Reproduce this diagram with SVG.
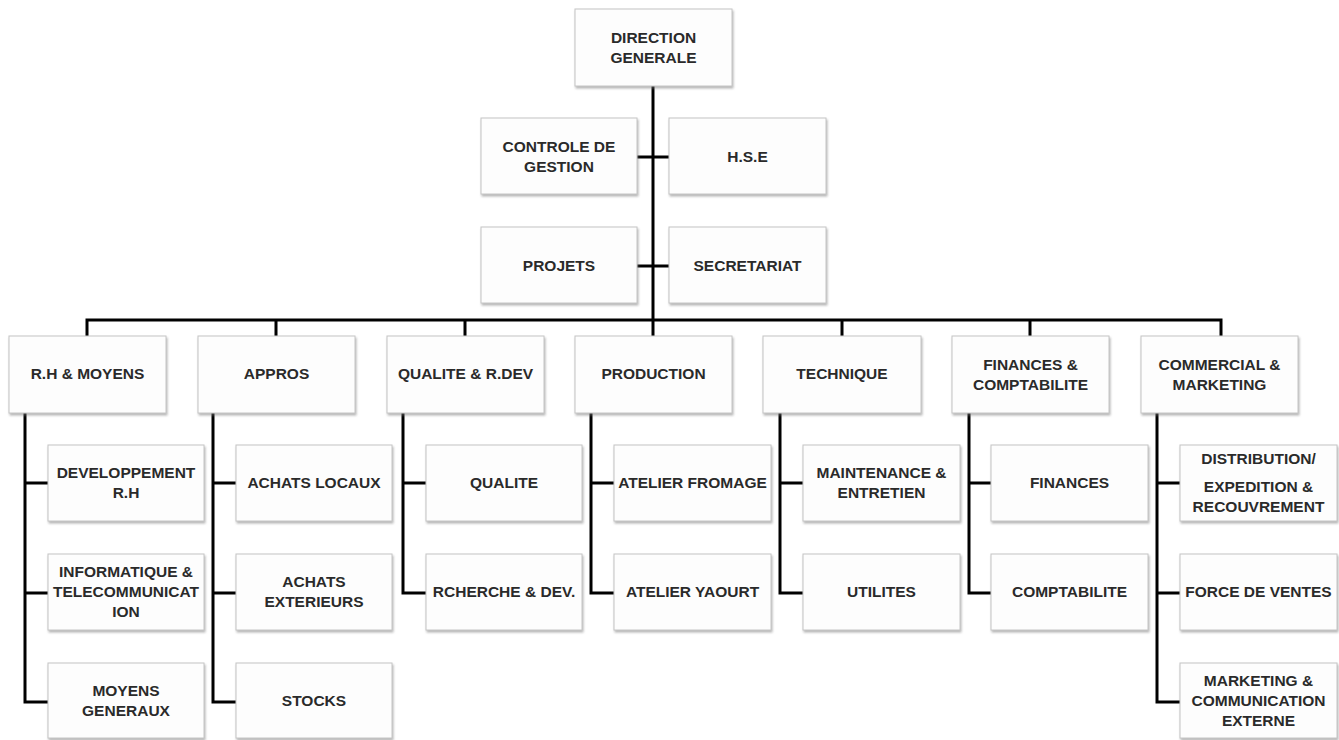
<svg xmlns="http://www.w3.org/2000/svg" width="1339" height="740" viewBox="0 0 1339 740">
<defs>
<filter id="sh" x="-10%" y="-10%" width="120%" height="130%">
<feDropShadow dx="1" dy="2" stdDeviation="1.2" flood-color="#7a7a7a" flood-opacity="0.55"/>
</filter>
<style>
.b{fill:#fdfdfd;stroke:#c4c4c4;stroke-width:1;filter:url(#sh)}
.t{font-family:"Liberation Sans",Arial,sans-serif;font-weight:bold;font-size:15.5px;fill:#2a2a2a;text-anchor:middle}
.c{fill:none;stroke:#000;stroke-width:3;stroke-linejoin:miter}
</style>
</defs>
<rect width="1339" height="740" fill="#fff"/>
<g id="connectors">
<path class="c" d="M653 86V336"/>
<path class="c" d="M637 157H669M637 266H669"/>
<path class="c" d="M87 336V320H1221V336"/>
<path class="c" d="M276 320V336M465 320V336M842 320V336M1030 320V336"/>
<path class="c" d="M25 413V702H48M25 483H48M25 593H48"/>
<path class="c" d="M213 413V702H236M213 483H236M213 593H236"/>
<path class="c" d="M403 413V593H426M403 483H426"/>
<path class="c" d="M591 413V593H614M591 483H614"/>
<path class="c" d="M780 413V593H803M780 483H803"/>
<path class="c" d="M969 413V593H991M969 483H991"/>
<path class="c" d="M1157 413V702H1180M1157 483H1180M1157 593H1180"/>
</g>
<g id="n-direction"><rect class="b" x="575" y="9" width="157" height="77"/><text class="t" x="653.5" y="43">DIRECTION</text><text class="t" x="653.5" y="63">GENERALE</text></g>
<g id="n-controle"><rect class="b" x="481" y="118" width="156" height="76"/><text class="t" x="559" y="152">CONTROLE DE</text><text class="t" x="559" y="172">GESTION</text></g>
<g id="n-hse"><rect class="b" x="669" y="118" width="157" height="76"/><text class="t" x="747.5" y="162">H.S.E</text></g>
<g id="n-projets"><rect class="b" x="481" y="227" width="156" height="76"/><text class="t" x="559" y="271">PROJETS</text></g>
<g id="n-secretariat"><rect class="b" x="669" y="227" width="157" height="76"/><text class="t" x="747.5" y="271">SECRETARIAT</text></g>

<g id="n-rh"><rect class="b" x="9" y="336" width="157" height="77"/><text class="t" x="87.5" y="379">R.H &amp; MOYENS</text></g>
<g id="n-appros"><rect class="b" x="198" y="336" width="157" height="77"/><text class="t" x="276.5" y="379">APPROS</text></g>
<g id="n-qualite-rdev"><rect class="b" x="387" y="336" width="157" height="77"/><text class="t" x="465.5" y="379">QUALITE &amp; R.DEV</text></g>
<g id="n-production"><rect class="b" x="575" y="336" width="157" height="77"/><text class="t" x="653.5" y="379">PRODUCTION</text></g>
<g id="n-technique"><rect class="b" x="763" y="336" width="158" height="77"/><text class="t" x="842" y="379">TECHNIQUE</text></g>
<g id="n-finances-compta"><rect class="b" x="952" y="336" width="157" height="77"/><text class="t" x="1030.5" y="370">FINANCES &amp;</text><text class="t" x="1030.5" y="390">COMPTABILITE</text></g>
<g id="n-commercial"><rect class="b" x="1141" y="336" width="157" height="77"/><text class="t" x="1219.5" y="370">COMMERCIAL &amp;</text><text class="t" x="1219.5" y="390">MARKETING</text></g>

<g id="n-dev-rh"><rect class="b" x="48" y="445" width="156" height="76"/><text class="t" x="126" y="478">DEVELOPPEMENT</text><text class="t" x="126" y="498">R.H</text></g>
<g id="n-info"><rect class="b" x="48" y="554" width="156" height="76"/><text class="t" x="126" y="577">INFORMATIQUE &amp;</text><text class="t" x="126" y="597">TELECOMMUNICAT</text><text class="t" x="126" y="617">ION</text></g>
<g id="n-moyens-gen"><rect class="b" x="48" y="663" width="156" height="75"/><text class="t" x="126" y="696">MOYENS</text><text class="t" x="126" y="716">GENERAUX</text></g>

<g id="n-achats-locaux"><rect class="b" x="236" y="445" width="156" height="76"/><text class="t" x="314" y="488">ACHATS LOCAUX</text></g>
<g id="n-achats-ext"><rect class="b" x="236" y="554" width="156" height="76"/><text class="t" x="314" y="587">ACHATS</text><text class="t" x="314" y="607">EXTERIEURS</text></g>
<g id="n-stocks"><rect class="b" x="236" y="663" width="156" height="75"/><text class="t" x="314" y="706">STOCKS</text></g>

<g id="n-qualite"><rect class="b" x="426" y="445" width="156" height="76"/><text class="t" x="504" y="488">QUALITE</text></g>
<g id="n-rcherche"><rect class="b" x="426" y="554" width="156" height="76"/><text class="t" x="504" y="597">RCHERCHE &amp; DEV.</text></g>

<g id="n-fromage"><rect class="b" x="614" y="445" width="157" height="76"/><text class="t" x="692.5" y="488">ATELIER FROMAGE</text></g>
<g id="n-yaourt"><rect class="b" x="614" y="554" width="157" height="76"/><text class="t" x="692.5" y="597">ATELIER YAOURT</text></g>

<g id="n-maintenance"><rect class="b" x="803" y="445" width="157" height="76"/><text class="t" x="881.5" y="478">MAINTENANCE &amp;</text><text class="t" x="881.5" y="498">ENTRETIEN</text></g>
<g id="n-utilites"><rect class="b" x="803" y="554" width="157" height="76"/><text class="t" x="881.5" y="597">UTILITES</text></g>

<g id="n-finances"><rect class="b" x="991" y="445" width="157" height="76"/><text class="t" x="1069.5" y="488">FINANCES</text></g>
<g id="n-comptabilite"><rect class="b" x="991" y="554" width="157" height="76"/><text class="t" x="1069.5" y="597">COMPTABILITE</text></g>

<g id="n-distribution"><rect class="b" x="1180" y="445" width="157" height="76"/><text class="t" x="1258.5" y="464">DISTRIBUTION/</text><text class="t" x="1258.5" y="492">EXPEDITION &amp;</text><text class="t" x="1258.5" y="512">RECOUVREMENT</text></g>
<g id="n-force"><rect class="b" x="1180" y="554" width="157" height="76"/><text class="t" x="1258.5" y="597">FORCE DE VENTES</text></g>
<g id="n-marketing"><rect class="b" x="1180" y="663" width="157" height="75"/><text class="t" x="1258.5" y="686">MARKETING &amp;</text><text class="t" x="1258.5" y="706">COMMUNICATION</text><text class="t" x="1258.5" y="726">EXTERNE</text></g>
</svg>
